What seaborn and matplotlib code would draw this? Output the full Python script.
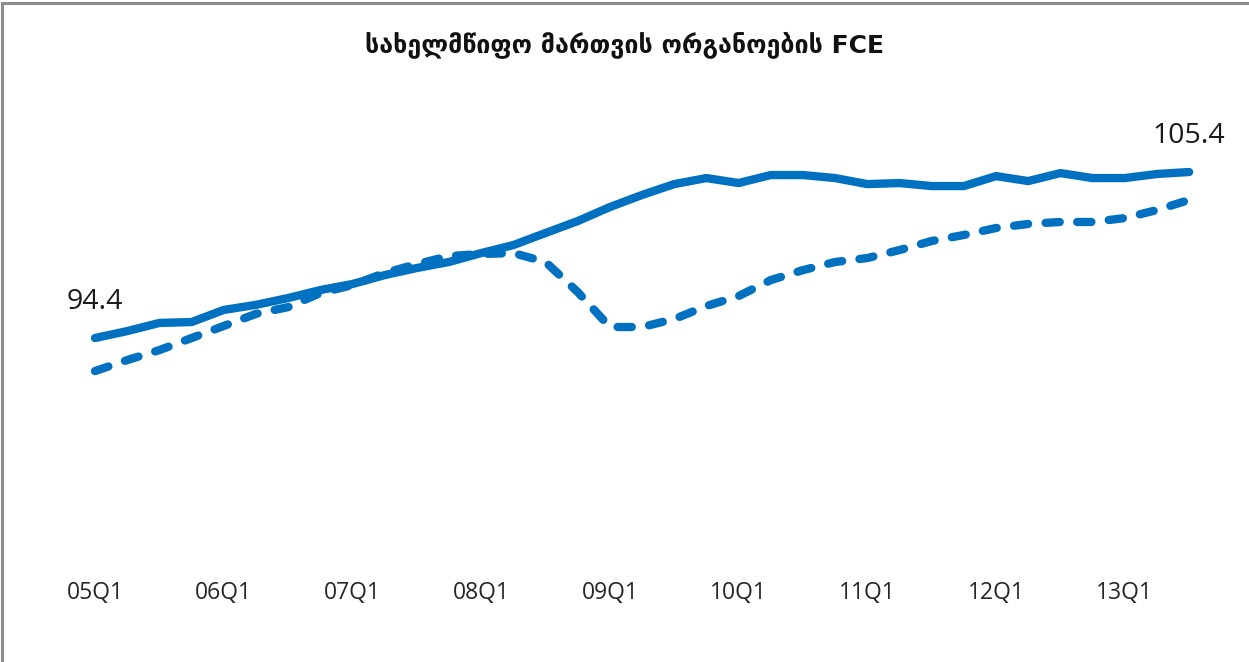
import matplotlib
matplotlib.use("Agg")
import matplotlib.pyplot as plt
from matplotlib.patches import Rectangle
import seaborn as sns
import pandas as pd

# Quarterly series, 2005Q1 - 2013Q3
quarters = [f"{y:02d}Q{q}" for y in range(5, 14) for q in range(1, 5)][:35]

actual = [94.4, 94.86, 95.4, 95.46, 96.26, 96.6, 97.05, 97.58, 97.98, 98.57,
          99.04, 99.44, 100.03, 100.56, 101.36, 102.15, 103.08, 103.88, 104.6, 105.0,
          104.67, 105.2, 105.2, 105.0, 104.6, 104.67, 104.47, 104.47, 105.13, 104.8,
          105.33, 105.0, 105.0, 105.27, 105.4]

trend = [92.21, 92.94, 93.6, 94.4, 95.2, 96.0, 96.45, 97.38, 97.91, 98.71,
         99.3, 99.83, 99.97, 100.03, 99.44, 97.45, 95.13, 95.13, 95.66, 96.52,
         97.18, 98.24, 98.9, 99.44, 99.7, 100.23, 100.83, 101.23, 101.69, 101.96,
         102.09, 102.09, 102.35, 102.88, 103.55]

title = "სახელმწიფო მართვის ორგანოების FCE"
tick_labels = [q for q in quarters if q.endswith("Q1")]

df = pd.DataFrame({"idx": range(len(quarters)), "quarter": quarters,
                   "actual": actual, "trend": trend})

sns.set_theme(style="white")
plt.rcParams["font.family"] = ["Open Sans", "DejaVu Sans"]

blue = "#0070C0"
fig = plt.figure(figsize=(12.49, 6.62), dpi=100)
ax = fig.add_axes([60 / 1249, 1 - 570 / 662, 1160 / 1249, 460 / 662])

sns.lineplot(data=df, x="idx", y="actual", ax=ax, color=blue, linewidth=6.0,
             solid_capstyle="round", solid_joinstyle="round")
sns.lineplot(data=df, x="idx", y="trend", ax=ax, color=blue, linewidth=6.0,
             linestyle=(0, (1.7, 2.1)), dash_capstyle="round", dash_joinstyle="round")

ax.set_xlim(-1.088, 34.96)
ax.set_ylim(79.03, 109.51)
ax.set_xlabel("")
ax.set_ylabel("")
ax.set_yticks([])
tick_pos = [quarters.index(t) for t in tick_labels]
ax.set_xticks(tick_pos)
ax.set_xticklabels(tick_labels, fontsize=16.5, color="#262626")
ax.tick_params(axis="x", length=0, pad=8)
for s in ax.spines.values():
    s.set_visible(False)

# value labels at first and last points
for i in (0, len(actual) - 1):
    ax.annotate(f"{actual[i]:.1f}", xy=(i, actual[i]), xytext=(0, 26),
                textcoords="offset points", ha="center", va="center",
                fontsize=20.5, color="#1a1a1a")

fig.text(0.5, 1 - 45 / 662, title, ha="center", va="center",
         fontsize=18, fontweight="bold", color="#111111",
         family=["DejaVu Sans"])

# chart frame
fig.patches.append(Rectangle((1.5 / 1249, -0.05), 1.2, 1 - 3 / 662 + 0.05,
                             transform=fig.transFigure, fill=False,
                             edgecolor="#8c8c8c", linewidth=2.2))

fig.savefig("out.png", dpi=100, facecolor="white")
